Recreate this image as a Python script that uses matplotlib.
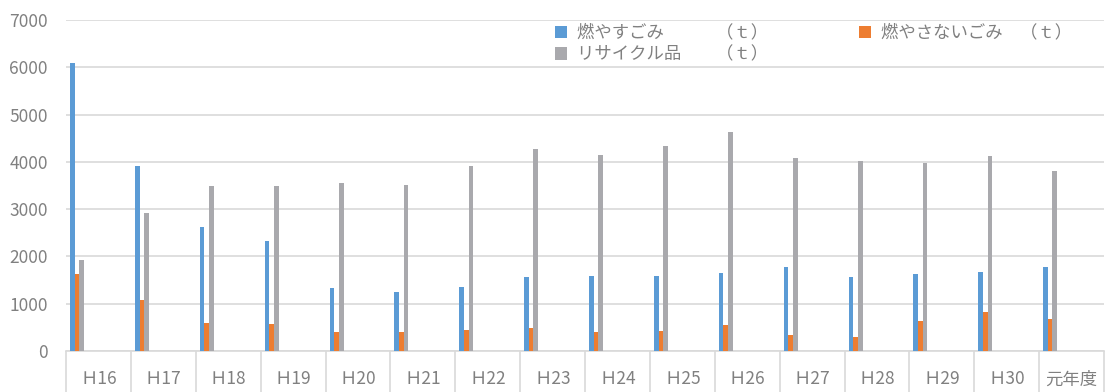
import numpy as np
import matplotlib
matplotlib.use("Agg")
import matplotlib.pyplot as plt
from matplotlib.ticker import FixedLocator

plt.rcParams['font.family'] = ['Noto Sans CJK JP', 'DejaVu Sans']

years = ["Ｈ16", "Ｈ17", "Ｈ18", "Ｈ19", "Ｈ20", "Ｈ21", "Ｈ22", "Ｈ23",
         "Ｈ24", "Ｈ25", "Ｈ26", "Ｈ27", "Ｈ28", "Ｈ29", "Ｈ30", "元年度"]
burnable = [6100, 3920, 2620, 2330, 1325, 1250, 1360, 1560,
            1580, 1590, 1645, 1785, 1570, 1630, 1670, 1785]
non_burnable = [1620, 1085, 595, 575, 405, 410, 445, 480,
                405, 425, 545, 340, 290, 635, 825, 680]
recycle = [1920, 2920, 3480, 3490, 3550, 3500, 3905, 4270,
           4145, 4340, 4630, 4080, 4015, 3975, 4125, 3805]

labels = ["燃やすごみ　　　（ｔ）", "燃やさないごみ　（ｔ）", "リサイクル品　　（ｔ）"]
colors = ["#5B9BD5", "#ED7D31", "#A9A9AD"]
text_color = "#808080"
grid_color = "#d9d9d9"

fig = plt.figure(figsize=(11.06, 3.92), dpi=100)
ax = fig.add_axes([66/1106, 41/392, 1038/1106, 331/392])

x = np.arange(len(years))
w = 0.072
start = x - 0.5 + 0.062
handles = []
for k, (vals, c) in enumerate(zip([burnable, non_burnable, recycle], colors)):
    h = ax.bar(start + k * w, vals, width=w, align='edge', color=c, label=labels[k], zorder=3)
    handles.append(h)

ax.set_xlim(-0.5, len(years) - 0.5)
ax.set_ylim(0, 7000)
ax.set_yticks(np.arange(0, 7001, 1000))
ax.grid(axis='y', color=grid_color, linewidth=1.2, zorder=0)

for s in ['top', 'right', 'left']:
    ax.spines[s].set_visible(False)
ax.spines['bottom'].set_color(grid_color)
ax.spines['bottom'].set_linewidth(1.2)

ax.set_xticks(x)
ax.set_xticklabels(years)
ax.xaxis.set_minor_locator(FixedLocator(np.arange(-0.5, len(years), 1.0)))
ax.tick_params(axis='x', which='major', length=0, pad=14, labelsize=12.5, labelcolor=text_color)
ax.tick_params(axis='x', which='minor', length=32, width=1.2, color=grid_color)
ax.tick_params(axis='y', length=0, pad=13, labelsize=12.5, labelcolor=text_color)

leg = ax.legend([handles[0], handles[2], handles[1]],
                [labels[0], labels[2], labels[1]],
                ncol=2, frameon=False, loc='upper left',
                bbox_to_anchor=(546/1106, 1 - 15/392), bbox_transform=fig.transFigure,
                fontsize=12.5, handlelength=0.7, handleheight=0.7, handletextpad=0.6,
                columnspacing=5.2, labelspacing=0.22, borderpad=0)
for t in leg.get_texts():
    t.set_color(text_color)

fig.savefig("out.png", dpi=100)
